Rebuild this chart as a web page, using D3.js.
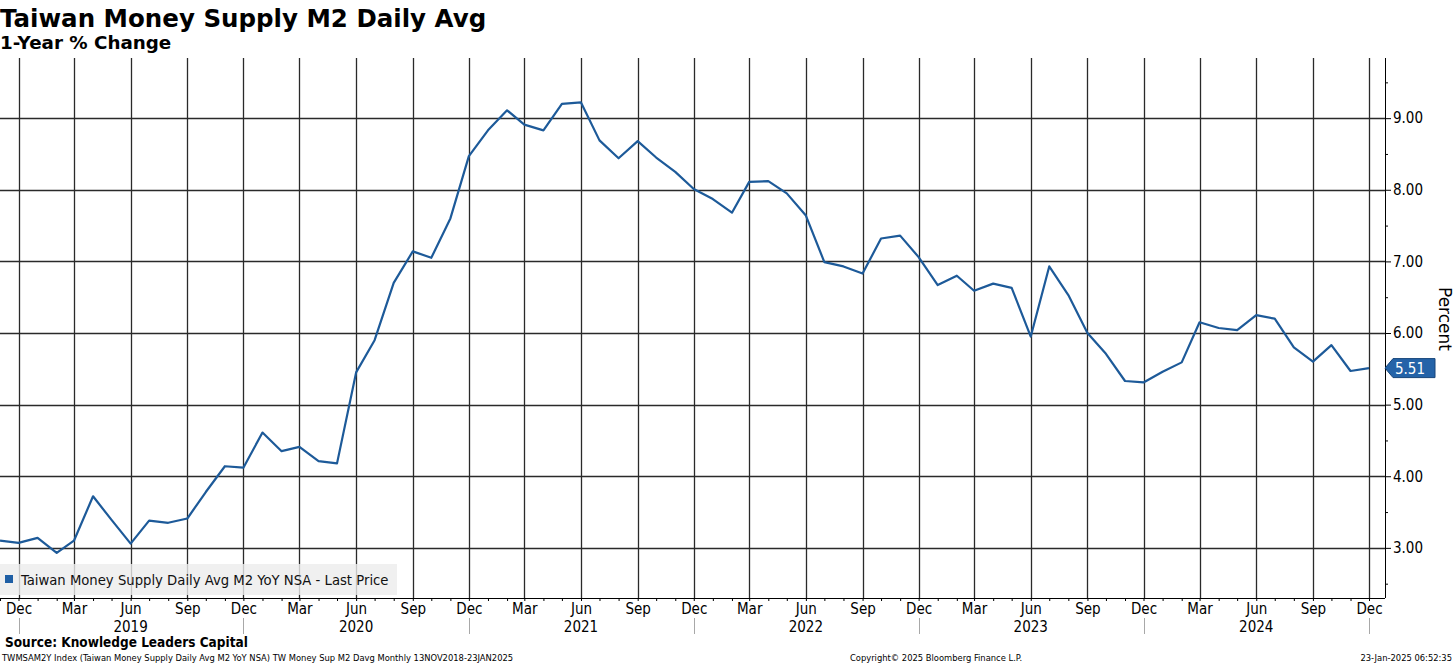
<!DOCTYPE html>
<html>
<head>
<meta charset="utf-8">
<script src="https://cdn.jsdelivr.net/npm/d3@7"></script>
<style>
  body { margin:0; background:#fff; }
  svg text { font-family: "DejaVu Sans Condensed", "DejaVu Sans", sans-serif; }
  svg text.wide { font-family: "DejaVu Sans", sans-serif; }
</style>
</head>
<body>
<svg id="chart"></svg>
<script>
// monthly 1-year % change, Nov 2018 .. Dec 2024
var start = new Date(2018, 10, 1)
var vals2018 = [3.10, 3.07]
var vals2019 = [3.14, 2.93, 3.10, 3.72, 3.39, 3.06, 3.38, 3.35, 3.41, 3.78, 4.14, 4.12]
var vals2020 = [4.61, 4.35, 4.41, 4.21, 4.18, 5.45, 5.90, 6.70, 7.14, 7.05, 7.60, 8.47]
var vals2021 = [8.83, 9.11, 8.91, 8.83, 9.20, 9.22, 8.69, 8.44, 8.68, 8.45, 8.25, 8.01]
var vals2022 = [7.87, 7.68, 8.11, 8.12, 7.95, 7.64, 6.99, 6.93, 6.83, 7.32, 7.36, 7.06]
var vals2023 = [6.67, 6.80, 6.59, 6.69, 6.63, 5.95, 6.93, 6.53, 6.00, 5.71, 5.33, 5.31]
var vals2024 = [5.46, 5.59, 6.15, 6.07, 6.04, 6.25, 6.20, 5.80, 5.60, 5.83, 5.47, 5.51]
var yTicks = [3, 4, 5, 6, 7, 8, 9]
var yMinor = [2.5, 3.5, 4.5, 5.5, 6.5, 7.5, 8.5, 9.5]
var years = [2019, 2020, 2021, 2022, 2023, 2024]
var lastValue = 5.51

var title = "Taiwan Money Supply M2 Daily Avg"
var subtitle = "1-Year % Change"
var legendText = "Taiwan Money Supply Daily Avg M2 YoY NSA - Last Price"
var sourceText = "Source: Knowledge Leaders Capital"
var footLeft = "TWMSAM2Y Index (Taiwan Money Supply Daily Avg M2 YoY NSA) TW Money Sup M2 Davg  Monthly 13NOV2018-23JAN2025"
var footMid = "Copyright\u00A9 2025 Bloomberg Finance L.P."
var footRight = "23-Jan-2025 06:52:35"

var allVals = [].concat(vals2018, vals2019, vals2020, vals2021, vals2022, vals2023, vals2024)
var series = allVals.map(function(v, i){ return {date: d3.timeMonth.offset(start, i), value: v} })

var screen = {width:1456, height:665}
var plot = {left:0, right:1385, top:58, bottom:598}
var blue = "#1d5a99"

var svg = d3.select("#chart")
    .attr("width", screen.width)
    .attr("height", screen.height)

var xScale = d3.scaleTime()
    .domain([new Date(2018, 11, 1), new Date(2024, 11, 1)])
    .range([18.5, 1369])
var yScale = d3.scaleLinear()
    .domain([2.30, 9.84])
    .range([plot.bottom, plot.top])

var months = d3.timeMonth.range(new Date(2018, 10, 1), new Date(2025, 0, 1))
var quarters = months.filter(function(d){ return d.getMonth() % 3 == 2 })
var decs = quarters.filter(function(d){ return d.getMonth() == 11 })
var px = function(d){ return Math.round(xScale(d)) + 0.5 }

// titles
svg.append("text").text(title).classed("wide", true)
    .attr("x", 0).attr("y", 27)
    .style("font-weight", "bold").style("font-size", "24.5px")
svg.append("text").text(subtitle).classed("wide", true)
    .attr("x", 0).attr("y", 49)
    .style("font-weight", "bold").style("font-size", "18.3px")

// grid
svg.append("clipPath").attr("id", "clip")
    .append("rect").attr("x", plot.left).attr("y", plot.top)
    .attr("width", plot.right - plot.left).attr("height", plot.bottom - plot.top)
var grid = svg.append("g")

grid.selectAll(".vgrid").data(quarters).enter().append("line")
    .attr("x1", px).attr("x2", px)
    .attr("y1", plot.top).attr("y2", plot.bottom)
    .attr("stroke", "#2a2a2a").attr("stroke-width", 1.3)
grid.selectAll(".hgrid").data(yTicks).enter().append("line")
    .attr("x1", plot.left).attr("x2", plot.right)
    .attr("y1", function(d){ return Math.round(yScale(d)) + 0.5 })
    .attr("y2", function(d){ return Math.round(yScale(d)) + 0.5 })
    .attr("stroke", "#2a2a2a").attr("stroke-width", 1.3)

// legend box
var legend = svg.append("g")
legend.append("rect")
    .attr("x", 0).attr("y", 564).attr("width", 397).attr("height", 31)
    .attr("fill", "#ececec").attr("opacity", 0.8)
legend.append("rect")
    .attr("x", 5).attr("y", 575).attr("width", 8).attr("height", 8)
    .attr("fill", "#1f5fa5")
legend.append("text").text(legendText)
    .attr("x", 21).attr("y", 585)
    .style("font-size", "14.7px").attr("fill", "#111")

// the line
var line = d3.line()
    .x(function(d){ return xScale(d.date) })
    .y(function(d){ return yScale(d.value) })
svg.append("path")
    .datum(series)
    .attr("clip-path", "url(#clip)")
    .attr("d", line)
    .attr("fill", "none")
    .attr("stroke", blue)
    .attr("stroke-width", 2.2)
    .attr("stroke-linejoin", "round")

// x axis
var xAxisMinor = d3.axisBottom(xScale).tickValues(months).tickSize(3).tickFormat("")
var xAxis = d3.axisBottom(xScale).tickValues(quarters).tickSize(0).tickPadding(5)
    .tickFormat(d3.timeFormat("%b"))
var gx = svg.append("g")
    .attr("transform", "translate(0," + plot.bottom + ")")
gx.call(xAxisMinor)
gx.select(".domain").attr("d", "M" + plot.left + ",0.5H" + plot.right).attr("stroke", "#000")
var gxl = svg.append("g")
    .attr("transform", "translate(0," + plot.bottom + ")")
    .call(xAxis)
gxl.select(".domain").remove()
gxl.selectAll("text").style("font-size", "15px").attr("fill", "#000")

svg.selectAll(".ysep").data(decs).enter().append("line")
    .attr("x1", px).attr("x2", px)
    .attr("y1", 618).attr("y2", 634)
    .attr("stroke", "#a8a8a8")
svg.selectAll(".year").data(years).enter().append("text")
    .text(function(d){ return d })
    .attr("x", function(d){ return xScale(new Date(d, 5, 1)) })
    .attr("y", 632)
    .attr("text-anchor", "middle")
    .style("font-size", "15px")

// right axis
var yAxis = d3.axisRight(yScale).tickValues(yTicks).tickSize(6).tickPadding(2)
    .tickFormat(d3.format(".2f"))
var yAxisMinor = d3.axisRight(yScale).tickValues(yMinor).tickSize(3).tickFormat("")
var gy = svg.append("g").attr("transform", "translate(" + plot.right + ",0)")
gy.call(yAxisMinor)
gy.select(".domain").attr("d", "M0.5," + plot.top + "V" + plot.bottom).attr("stroke", "#000")
var gyl = svg.append("g").attr("transform", "translate(" + plot.right + ",0)").call(yAxis)
gyl.select(".domain").remove()
gyl.selectAll("text").style("font-size", "15px").attr("fill", "#000")
svg.selectAll(".tick line").attr("stroke", "#000")

svg.append("text").text("Percent").classed("wide", true)
    .attr("transform", "translate(1439,319) rotate(90)")
    .attr("text-anchor", "middle")
    .style("font-size", "17px")

// last value tag
var ty = yScale(lastValue)
svg.append("path")
    .attr("d", "M" + plot.right + "," + ty + "L1393," + (ty - 9.5) + "H1435V" + (ty + 9.5) + "H1393Z")
    .attr("fill", "#2463a8").attr("stroke", "#17457a").attr("stroke-width", 1)
svg.append("text").text(d3.format(".2f")(lastValue))
    .attr("x", 1395).attr("y", ty + 5.5)
    .attr("fill", "#fff")
    .style("font-size", "15px")

// footer
svg.append("text").text(sourceText)
    .attr("x", 5).attr("y", 647)
    .style("font-weight", "bold").style("font-size", "13.5px")
svg.append("text").text(footLeft)
    .attr("x", 2).attr("y", 661)
    .style("font-size", "9.3px")
svg.append("text").text(footMid)
    .attr("x", 936).attr("y", 661).attr("text-anchor", "middle")
    .style("font-size", "9.3px")
svg.append("text").text(footRight)
    .attr("x", 1452).attr("y", 661).attr("text-anchor", "end")
    .style("font-size", "9.3px")
</script>
</body>
</html>
